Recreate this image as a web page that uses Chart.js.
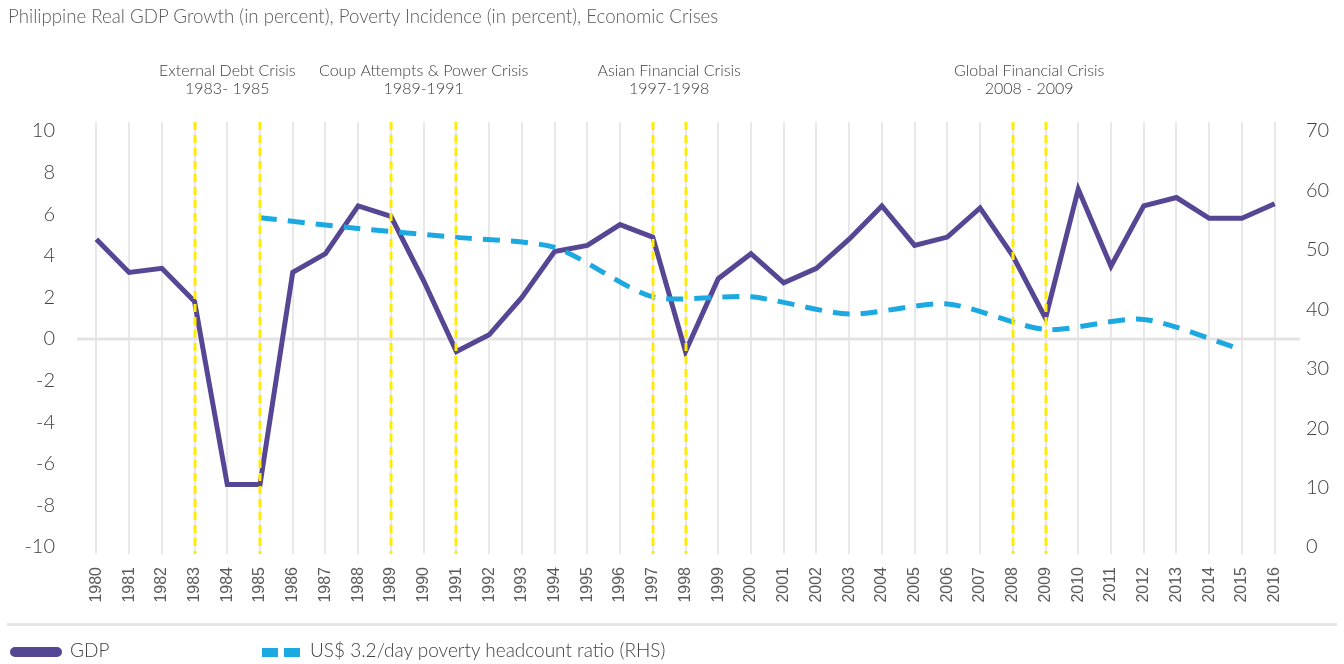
<!DOCTYPE html>
<html lang="en">
<head>
    <meta charset="UTF-8">
    <title>Philippine Real GDP Growth, Poverty Incidence, Economic Crises</title>
    <script src="https://cdn.jsdelivr.net/npm/chart.js@4.4.1/dist/chart.umd.min.js"></script>
    <style>
        html, body { margin: 0; padding: 0; background: #fff; }
        body { width: 1344px; height: 664px; position: relative; overflow: hidden; font-family: Lato, "Open Sans", sans-serif; }
        #gdpChart { position: absolute; left: 0; top: 0; }
        .title { position: absolute; left: 8px; top: 5px; font-size: 18.7px; font-weight: 300; color: #595959; white-space: nowrap; }
        .rule { position: absolute; left: 7px; top: 623px; width: 1330px; height: 3px; background: #e6e6e6; }
        .legend { position: absolute; top: 639px; font-size: 19px; font-weight: 300; color: #404040; white-space: nowrap; line-height: 22px; }
        .swatch { position: absolute; top: 647px; height: 10px; }
        .swatch.gdp { left: 10px; width: 52px; border-radius: 5px; background: #574693; }
        .swatch.pov { width: 16px; height: 9px; top: 648px; background: #1ca9e1; }
    </style>
</head>
<body>

    <canvas id="gdpChart" width="1344" height="664"></canvas>

    <div class="title">Philippine Real GDP Growth (in percent), Poverty Incidence (in percent), Economic Crises</div>
    <div class="rule"></div>

    <div class="swatch gdp"></div>
    <div class="legend" style="left: 70px;">GDP</div>
    <div class="swatch pov" style="left: 262px;"></div>
    <div class="swatch pov" style="left: 284px;"></div>
    <div class="legend" style="left: 310px;">US$ 3.2/day poverty headcount ratio (RHS)</div>

    <script>
        // years on the x axis
        const years = ['1980', '1981', '1982', '1983', '1984', '1985', '1986', '1987', '1988', '1989',
                       '1990', '1991', '1992', '1993', '1994', '1995', '1996', '1997', '1998', '1999',
                       '2000', '2001', '2002', '2003', '2004', '2005', '2006', '2007', '2008', '2009',
                       '2010', '2011', '2012', '2013', '2014', '2015', '2016'];

        // real GDP growth, percent (left axis)
        const gdpGrowth = [4.8, 3.2, 3.4, 1.8, -7.0, -7.0, 3.2, 4.1, 6.4, 5.9,
                           2.8, -0.6, 0.2, 2.0, 4.2, 4.5, 5.5, 4.9, -0.6, 2.9,
                           4.1, 2.7, 3.4, 4.8, 6.4, 4.5, 4.9, 6.3, 4.0, 1.0,
                           7.2, 3.5, 6.4, 6.8, 5.8, 5.8, 6.5];

        // US$ 3.2/day poverty headcount ratio, percent (right axis), survey years only
        const povertyRatio = [null, null, null, null, null, 55.4, null, null, 53.6, null,
                              null, 52.1, null, null, 50.4, null, null, 42.1, null, null,
                              42.1, null, null, 39.2, null, null, 40.9, null, null, 36.6,
                              null, null, 38.3, null, null, 33.2, null];

        // crises marked with dashed yellow lines
        const crisisNames = ['External Debt Crisis', 'Coup Attempts & Power Crisis', 'Asian Financial Crisis', 'Global Financial Crisis'];
        const crisisPeriods = ['1983- 1985', '1989-1991', '1997-1998', '2008 - 2009'];
        const crisisStart = ['1983', '1989', '1997', '2008'];
        const crisisEnd = ['1985', '1991', '1998', '2009'];

        const gdpColor = '#574693';
        const povColor = '#1ca9e1';
        const crisisColor = '#ffec00';

        function strokeLine(ctx, x1, y1, x2, y2) {
            ctx.beginPath();
            ctx.moveTo(x1, y1);
            ctx.lineTo(x2, y2);
            ctx.stroke();
        }

        const backdrop = {
            id: 'backdrop',
            beforeDatasetsDraw(chart) {
                const { ctx, chartArea: a, scales: { x, y } } = chart;
                ctx.save();
                // vertical grid
                ctx.strokeStyle = '#e8e8e8';
                ctx.lineWidth = 2;
                years.forEach((yr, i) => {
                    const px = Math.round(x.getPixelForValue(i));
                    strokeLine(ctx, px, a.top - 9, px, a.bottom + 7);
                });
                // zero line
                const y0 = y.getPixelForValue(0);
                ctx.strokeStyle = '#e3e3e3';
                ctx.lineWidth = 3;
                strokeLine(ctx, a.left - 3, y0, a.right + 9, y0);
                ctx.restore();
            },
            afterDatasetsDraw(chart) {
                const { ctx, chartArea: a, scales: { x } } = chart;
                ctx.save();
                ctx.strokeStyle = crisisColor;
                ctx.lineWidth = 3;
                ctx.setLineDash([8, 5]);
                crisisStart.concat(crisisEnd).forEach(yr => {
                    const px = Math.round(x.getPixelForValue(years.indexOf(yr)));
                    strokeLine(ctx, px, a.top - 9, px, a.bottom + 7);
                });
                ctx.setLineDash([]);

                ctx.fillStyle = '#404040';
                ctx.font = '300 16px Lato';
                ctx.textAlign = 'center';
                ctx.textBaseline = 'middle';
                crisisNames.forEach((name, i) => {
                    const mid = (x.getPixelForValue(years.indexOf(crisisStart[i])) +
                                 x.getPixelForValue(years.indexOf(crisisEnd[i]))) / 2;
                    ctx.fillText(name, mid, 71);
                    ctx.fillText(crisisPeriods[i], mid, 89);
                });
                ctx.restore();
            }
        };

        new Chart(document.getElementById('gdpChart'), {
            type: 'line',
            data: {
                labels: years,
                datasets: [
                    {
                        label: 'GDP',
                        data: gdpGrowth,
                        yAxisID: 'y',
                        borderColor: gdpColor,
                        borderWidth: 5,
                        borderJoinStyle: 'miter',
                        tension: 0,
                        order: 2
                    },
                    {
                        label: 'US$ 3.2/day poverty headcount ratio (RHS)',
                        data: povertyRatio,
                        yAxisID: 'y1',
                        borderColor: povColor,
                        borderWidth: 5,
                        borderDash: [17, 11],
                        borderCapStyle: 'butt',
                        spanGaps: true,
                        tension: 0.25,
                        order: 1
                    }
                ]
            },
            options: {
                responsive: false,
                animation: false,
                layout: { padding: { top: 131 } },
                elements: { point: { radius: 0, hoverRadius: 0 } },
                plugins: {
                    legend: { display: false },
                    tooltip: { enabled: false }
                },
                scales: {
                    x: {
                        offset: true,
                        grid: { display: false, drawTicks: false },
                        border: { display: false },
                        ticks: {
                            autoSkip: false,
                            minRotation: 90,
                            maxRotation: 90,
                            padding: 20,
                            color: '#595959',
                            font: { family: 'Arial, "Liberation Sans"', size: 16 }
                        },
                        afterFit(s) { s.height = 117; }
                    },
                    y: {
                        position: 'left',
                        min: -10,
                        max: 10,
                        grid: { display: false, drawTicks: false },
                        border: { display: false },
                        ticks: { stepSize: 2, padding: 25, color: '#404040', font: { family: 'Lato', size: 20, weight: '300' } },
                        afterFit(s) { s.width = 80; }
                    },
                    y1: {
                        position: 'right',
                        min: 0,
                        max: 70,
                        grid: { display: false, drawTicks: false },
                        border: { display: false },
                        ticks: { stepSize: 10, padding: 15, color: '#404040', font: { family: 'Lato', size: 20, weight: '300' } },
                        afterFit(s) { s.width = 53; }
                    }
                }
            },
            plugins: [backdrop]
        });
    </script>

</body>
</html>
